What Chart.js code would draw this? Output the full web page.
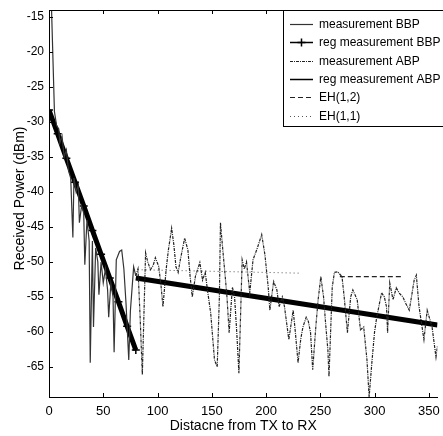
<!DOCTYPE html>
<html>
<head>
<meta charset="utf-8">
<script src="https://cdn.jsdelivr.net/npm/chart.js@4.4.1/dist/chart.umd.min.js"></script>
<style>
  html, body { margin: 0; padding: 0; background: #fff; }
  #wrap { width: 443px; height: 436px; position: relative; }
</style>
</head>
<body>
<div id="wrap"><canvas id="pathLoss"></canvas></div>
<script>
// tick labels
const xTicks = [0, 50, 100, 150, 200, 250, 300, 350];
const yTicks = [-65, -60, -55, -50, -45, -40, -35, -30, -25, -20, -15];

const seriesNames = ['measurement BBP', 'reg measurement BBP', 'measurement ABP',
    'reg measurement ABP', 'EH(1,2)', 'EH(1,1)'];

// measurement before breakpoint
const bbpX = [2, 5, 7, 9, 10, 12, 14, 16, 18, 20, 22, 23, 25, 27, 28, 30, 32, 33, 35, 37, 38, 40, 41,
    43, 45, 46, 48, 50, 52, 54, 55, 57, 59, 60, 62, 65, 67, 69, 71, 73.5, 75, 78, 80];
const bbpY = [-12, -28.5, -30.5, -31, -33, -32, -35, -34, -37, -38, -46.5, -38, -40, -39, -44.4, -42, -43,
    -50.4, -44, -47, -64.4, -47, -59.3, -48, -50, -54.7, -50, -53, -51, -54, -57.9, -53, -55, -62.9,
    -49.7, -48.5, -48.3, -51, -56, -64, -57, -50.7, -52];

// regression before breakpoint
const regBbpX = [0, 8, 16, 24, 32, 40, 48, 56, 64, 72, 80];
const regBbpY = [-28.3, -31.7, -35.2, -38.6, -42.0, -45.5, -48.9, -52.3, -55.7, -59.2, -62.6];

// measurement after breakpoint
const abpX = [80, 82, 84, 86, 89, 91, 93.5, 96, 98, 101, 103, 105, 108, 110, 113, 115, 117, 119, 121,
    125, 128, 130, 132, 135, 139, 141.5, 144, 146, 149, 152.5, 155, 157, 158, 160, 162.5, 164, 166,
    169, 171, 173, 175, 178, 180, 182, 185, 188, 192, 196, 199, 202, 203.5, 207, 210, 212, 215, 217,
    221, 225, 227, 229.5, 232, 234, 237, 239, 241, 243, 246, 248, 250.5, 253, 255, 257, 258, 261, 263,
    266, 270, 272, 275, 278, 280, 284, 287, 290, 293, 295, 297.5, 300, 302, 306.5, 309, 311, 312, 314,
    317, 320, 323, 326, 329, 332, 336.5, 338.5, 341, 345.5, 348.5, 353, 356.6, 358];
const abpY = [-52, -51, -58, -66.1, -48.7, -50, -51.1, -50.5, -49.4, -50.6, -53, -56.4, -51, -48.3,
    -45.2, -47.5, -50.7, -51.5, -49.7, -46.6, -48.3, -52, -55, -52, -50.1, -52.6, -51.5, -54, -57.3,
    -64, -65, -55, -44.4, -48, -52.3, -55, -60.1, -53.6, -55, -60, -65.9, -49.7, -51, -50, -54.4,
    -49.7, -48, -46.1, -49, -53.6, -56.9, -52.8, -54, -56.4, -55, -56.4, -61.1, -56.9, -60, -64.4,
    -61, -59.3, -57.9, -58.5, -60.1, -65.4, -59, -55.4, -52.1, -55, -59, -62.6, -66.4, -53.6, -51.5,
    -51.4, -52.1, -55, -60.1, -55, -54, -55.4, -59.7, -59.3, -64, -69.3, -64.4, -60, -57.9, -54.4,
    -55, -56.4, -60.1, -53, -55.4, -53.7, -54.5, -55, -56, -56.9, -52.6, -51.9, -56.4, -61.1, -56.9,
    -59.3, -63.6, -62];

// regression after breakpoint
const regAbpX = [80, 358];
const regAbpY = [-52.3, -59];

const eh12X = [268, 325];
const eh12Y = [-52.1, -52.1];
const eh11X = [78, 230];
const eh11Y = [-51.1, -51.6];

function pts(xs, ys) {
    return xs.map((x, i) => ({ x: x, y: ys[i] }));
}

const datasets = [
    { label: seriesNames[0], data: pts(bbpX, bbpY), borderColor: '#333', borderWidth: 1.2, pointRadius: 0 },
    { label: seriesNames[1], data: pts(regBbpX, regBbpY), borderColor: '#000', borderWidth: 5,
      pointStyle: 'cross', pointRadius: 4, pointBorderWidth: 1.5, pointBorderColor: '#000' },
    { label: seriesNames[2], data: pts(abpX, abpY), borderColor: '#222', borderWidth: 1.2,
      borderDash: [3, 1, 1, 1], pointRadius: 0 },
    { label: seriesNames[3], data: pts(regAbpX, regAbpY), borderColor: '#000', borderWidth: 5, pointRadius: 0 },
    { label: seriesNames[4], data: pts(eh12X, eh12Y), borderColor: '#222', borderWidth: 1.2,
      borderDash: [5, 3], pointRadius: 0 },
    { label: seriesNames[5], data: pts(eh11X, eh11Y), borderColor: '#555', borderWidth: 1,
      borderDash: [1, 3], pointRadius: 0 }
];

// inward tick marks, top border and the y title, matlab style
const frameTicks = {
    id: 'frameTicks',
    afterDraw(chart) {
        const ctx = chart.ctx;
        const a = chart.chartArea;
        const xs = chart.scales.x, ys = chart.scales.y;
        ctx.save();
        ctx.strokeStyle = '#000';
        ctx.lineWidth = 1;
        ctx.beginPath();
        ctx.moveTo(a.left, a.top + 0.5);
        ctx.lineTo(a.right, a.top + 0.5);
        xTicks.forEach(v => {
            const p = Math.round(xs.getPixelForValue(v)) + 0.5;
            ctx.moveTo(p, a.bottom); ctx.lineTo(p, a.bottom - 4);
            ctx.moveTo(p, a.top); ctx.lineTo(p, a.top + 4);
        });
        yTicks.forEach(v => {
            const p = Math.round(ys.getPixelForValue(v)) + 0.5;
            ctx.moveTo(a.left, p); ctx.lineTo(a.left + 4, p);
        });
        ctx.stroke();

        ctx.translate(20, (a.top + a.bottom) / 2 - 5);
        ctx.rotate(-Math.PI / 2);
        ctx.fillStyle = '#000';
        ctx.font = '14px "Liberation Sans", Arial, sans-serif';
        ctx.textAlign = 'center';
        ctx.textBaseline = 'middle';
        ctx.fillText('Received Power (dBm)', 0, 0);
        ctx.restore();
    }
};

const boxLegend = {
    id: 'boxLegend',
    afterDraw(chart) {
        const ctx = chart.ctx;
        ctx.save();
        ctx.fillStyle = '#fff';
        ctx.fillRect(283, 10, 170, 116);
        ctx.strokeStyle = '#000';
        ctx.lineWidth = 1;
        ctx.strokeRect(283.5, 10.5, 170, 116);
        ctx.font = '12px "Liberation Sans", Arial, sans-serif';
        ctx.textBaseline = 'middle';
        chart.data.datasets.forEach((ds, i) => {
            const y = Math.round(24 + i * 18.3) + 0.5;
            ctx.strokeStyle = ds.borderColor;
            ctx.lineWidth = Math.min(ds.borderWidth, 1.5);
            ctx.setLineDash(ds.borderDash || []);
            ctx.beginPath();
            ctx.moveTo(290, y);
            ctx.lineTo(313, y);
            ctx.stroke();
            ctx.setLineDash([]);
            if (ds.pointStyle === 'cross') {
                ctx.lineWidth = 1.5;
                ctx.beginPath();
                ctx.moveTo(301.5, y - 4); ctx.lineTo(301.5, y + 4);
                ctx.moveTo(297.5, y); ctx.lineTo(305.5, y);
                ctx.stroke();
            }
            ctx.fillStyle = '#000';
            ctx.fillText(ds.label, 319, y);
        });
        ctx.restore();
    }
};

const ctx = document.getElementById('pathLoss').getContext('2d');
new Chart(ctx, {
    type: 'line',
    data: { datasets: datasets },
    options: {
        responsive: true,
        maintainAspectRatio: false,
        animation: false,
        layout: { padding: { top: 10, right: 0, bottom: 0, left: 0 } },
        plugins: { legend: { display: false }, tooltip: { enabled: false } },
        scales: {
            x: {
                type: 'linear',
                min: 0,
                max: 358,
                afterBuildTicks: s => { s.ticks = xTicks.map(v => ({ value: v })); },
                afterFit: s => { s.height = 39; s.paddingLeft = 0; s.paddingRight = 0; },
                grid: { display: true, drawOnChartArea: false, drawTicks: false },
                border: { display: true, color: '#000', width: 1 },
                ticks: { color: '#000', padding: 7, maxRotation: 0, minRotation: 0,
                    font: { family: '"Liberation Sans Narrow", "Liberation Sans", Arial', size: 13 } },
                title: { display: true, text: 'Distacne from TX to RX', color: '#000',
                    padding: { top: 0, bottom: 1 },
                    font: { family: '"Liberation Sans", Arial', size: 14 } }
            },
            y: {
                min: -69.3,
                max: -14,
                afterBuildTicks: s => { s.ticks = yTicks.map(v => ({ value: v })); },
                afterFit: s => { s.width = 49; s.paddingTop = 0; s.paddingBottom = 0; },
                grid: { display: true, drawOnChartArea: false, drawTicks: false },
                border: { display: true, color: '#000', width: 1 },
                ticks: { color: '#000', padding: 5, maxRotation: 0, minRotation: 0,
                    font: { family: '"Liberation Sans", Arial', size: 12 } },
                title: { display: false }
            }
        }
    },
    plugins: [frameTicks, boxLegend]
});
</script>
</body>
</html>
